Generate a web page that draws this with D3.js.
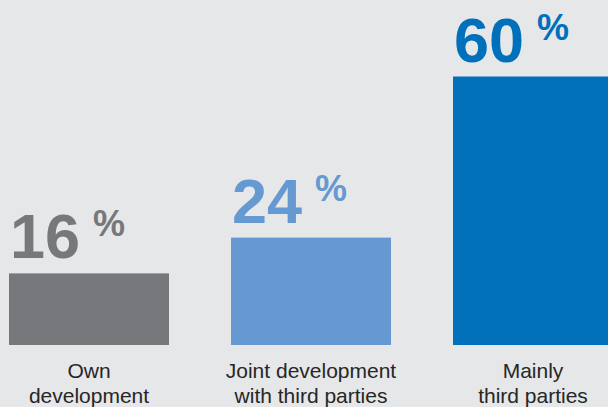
<!DOCTYPE html>
<html>
<head>
<meta charset="utf-8">
<script src="https://cdn.jsdelivr.net/npm/d3@7"></script>
<style>
  html, body { margin: 0; padding: 0; background: #e6e7e8; overflow: hidden; }
  svg { display: block; font-family: "Liberation Sans", Arial, Helvetica, sans-serif; }
</style>
</head>
<body>
<div id="chart"></div>
<script>
// chart values
const categories = ['Own development', 'Joint development with third parties', 'Mainly third parties'];
const labelLines = [['Own', 'development'], ['Joint development', 'with third parties'], ['Mainly', 'third parties']];
const shares = [16, 24, 60];
const colors = ['#77787b', '#6699d1', '#0070bb'];

const width = 608;
const height = 407;

const svg = d3.select('#chart')
    .append('svg')
    .attr('width', width)
    .attr('height', height)
    .attr('viewBox', [0, 0, width, height]);

svg.append('rect')
    .attr('width', width)
    .attr('height', height)
    .attr('fill', '#e6e7e8');

const x = d3.scaleBand()
    .domain(categories)
    .range([9, 613])
    .paddingInner(62 / 222)
    .paddingOuter(0);

const y = d3.scaleLinear()
    .domain([0, 60])
    .range([345, 76.5]);

const data = categories.map((c, i) => ({ cat: c, value: shares[i], color: colors[i], lines: labelLines[i] }));

svg.append('g')
    .selectAll('rect')
    .data(data)
    .join('rect')
    .attr('x', (d) => x(d.cat))
    .attr('y', (d) => y(d.value))
    .attr('width', x.bandwidth())
    .attr('height', (d) => y(0) - y(d.value))
    .attr('fill', (d) => d.color);

// big value labels with raised percent sign
const vals = svg.append('g')
    .selectAll('text')
    .data(data)
    .join('text')
    .attr('x', (d) => x(d.cat) + 1)
    .attr('y', (d) => y(d.value) - 15)
    .attr('fill', (d) => d.color)
    .attr('font-weight', 'bold');

vals.append('tspan')
    .attr('font-size', 63)
    .text((d) => d.value);

vals.append('tspan')
    .attr('font-size', 36)
    .attr('dx', 13)
    .attr('dy', -22)
    .text('%');

// category labels below the bars
const cats = svg.append('g')
    .selectAll('text')
    .data(data)
    .join('text')
    .attr('text-anchor', 'middle')
    .attr('font-size', 21)
    .attr('fill', '#262626');

cats.selectAll('tspan')
    .data((d) => d.lines.map((l, j) => ({ l, j, cx: x(d.cat) + x.bandwidth() / 2 })))
    .join('tspan')
    .attr('x', (d) => d.cx)
    .attr('y', (d) => 378 + d.j * 25)
    .text((d) => d.l);
</script>
</body>
</html>
